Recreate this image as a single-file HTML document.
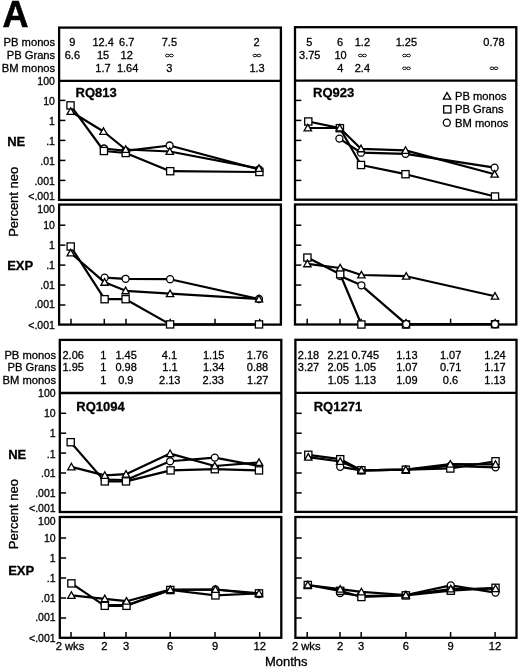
<!DOCTYPE html>
<html><head><meta charset="utf-8"><style>
html,body{margin:0;padding:0;background:#fff;}
svg{display:block;filter:grayscale(1) blur(0.3px);}
text{font-family:"Liberation Sans",sans-serif;fill:#000;stroke:#000;stroke-width:0.3px;}
</style></head><body>
<svg width="520" height="669" viewBox="0 0 520 669" stroke="#000" stroke-linecap="butt">
<text x="2.4" y="27.2" font-size="36" font-weight="bold" style="stroke-width:0.6px">A</text>
<rect x="59.1" y="27.6" width="221.80" height="172.30" fill="none" stroke-width="2.3"/>
<line x1="59.10" y1="80.80" x2="280.90" y2="80.80" stroke-width="2.3"/>
<rect x="59.1" y="204.6" width="221.80" height="120.00" fill="none" stroke-width="2.3"/>
<rect x="295.0" y="27.2" width="221.30" height="172.50" fill="none" stroke-width="2.3"/>
<line x1="295.00" y1="80.70" x2="516.30" y2="80.70" stroke-width="2.3"/>
<rect x="295.0" y="204.5" width="221.30" height="120.00" fill="none" stroke-width="2.3"/>
<rect x="59.8" y="339.9" width="221.50" height="172.10" fill="none" stroke-width="2.3"/>
<line x1="59.80" y1="393.00" x2="281.30" y2="393.00" stroke-width="2.3"/>
<rect x="59.8" y="517.0" width="221.50" height="120.80" fill="none" stroke-width="2.3"/>
<rect x="295.4" y="339.8" width="221.10" height="172.10" fill="none" stroke-width="2.3"/>
<line x1="295.40" y1="392.90" x2="516.50" y2="392.90" stroke-width="2.3"/>
<rect x="295.4" y="517.0" width="221.10" height="120.80" fill="none" stroke-width="2.3"/>
<line x1="59.10" y1="100.40" x2="65.40" y2="100.40" stroke-width="1.5"/>
<line x1="59.10" y1="120.40" x2="65.40" y2="120.40" stroke-width="1.5"/>
<line x1="59.10" y1="140.40" x2="65.40" y2="140.40" stroke-width="1.5"/>
<line x1="59.10" y1="160.40" x2="65.40" y2="160.40" stroke-width="1.5"/>
<line x1="59.10" y1="180.40" x2="65.40" y2="180.40" stroke-width="1.5"/>
<line x1="295.00" y1="100.40" x2="301.30" y2="100.40" stroke-width="1.5"/>
<line x1="295.00" y1="120.40" x2="301.30" y2="120.40" stroke-width="1.5"/>
<line x1="295.00" y1="140.40" x2="301.30" y2="140.40" stroke-width="1.5"/>
<line x1="295.00" y1="160.40" x2="301.30" y2="160.40" stroke-width="1.5"/>
<line x1="295.00" y1="180.40" x2="301.30" y2="180.40" stroke-width="1.5"/>
<line x1="59.10" y1="225.20" x2="65.40" y2="225.20" stroke-width="1.5"/>
<line x1="59.10" y1="245.15" x2="65.40" y2="245.15" stroke-width="1.5"/>
<line x1="59.10" y1="265.10" x2="65.40" y2="265.10" stroke-width="1.5"/>
<line x1="59.10" y1="285.05" x2="65.40" y2="285.05" stroke-width="1.5"/>
<line x1="59.10" y1="305.00" x2="65.40" y2="305.00" stroke-width="1.5"/>
<line x1="295.00" y1="225.20" x2="301.30" y2="225.20" stroke-width="1.5"/>
<line x1="295.00" y1="245.15" x2="301.30" y2="245.15" stroke-width="1.5"/>
<line x1="295.00" y1="265.10" x2="301.30" y2="265.10" stroke-width="1.5"/>
<line x1="295.00" y1="285.05" x2="301.30" y2="285.05" stroke-width="1.5"/>
<line x1="295.00" y1="305.00" x2="301.30" y2="305.00" stroke-width="1.5"/>
<line x1="59.80" y1="413.30" x2="66.10" y2="413.30" stroke-width="1.5"/>
<line x1="59.80" y1="433.20" x2="66.10" y2="433.20" stroke-width="1.5"/>
<line x1="59.80" y1="453.10" x2="66.10" y2="453.10" stroke-width="1.5"/>
<line x1="59.80" y1="473.00" x2="66.10" y2="473.00" stroke-width="1.5"/>
<line x1="59.80" y1="492.90" x2="66.10" y2="492.90" stroke-width="1.5"/>
<line x1="295.40" y1="413.30" x2="301.70" y2="413.30" stroke-width="1.5"/>
<line x1="295.40" y1="433.20" x2="301.70" y2="433.20" stroke-width="1.5"/>
<line x1="295.40" y1="453.10" x2="301.70" y2="453.10" stroke-width="1.5"/>
<line x1="295.40" y1="473.00" x2="301.70" y2="473.00" stroke-width="1.5"/>
<line x1="295.40" y1="492.90" x2="301.70" y2="492.90" stroke-width="1.5"/>
<line x1="59.80" y1="538.00" x2="66.10" y2="538.00" stroke-width="1.5"/>
<line x1="59.80" y1="558.00" x2="66.10" y2="558.00" stroke-width="1.5"/>
<line x1="59.80" y1="578.00" x2="66.10" y2="578.00" stroke-width="1.5"/>
<line x1="59.80" y1="598.00" x2="66.10" y2="598.00" stroke-width="1.5"/>
<line x1="59.80" y1="618.00" x2="66.10" y2="618.00" stroke-width="1.5"/>
<line x1="295.40" y1="538.00" x2="301.70" y2="538.00" stroke-width="1.5"/>
<line x1="295.40" y1="558.00" x2="301.70" y2="558.00" stroke-width="1.5"/>
<line x1="295.40" y1="578.00" x2="301.70" y2="578.00" stroke-width="1.5"/>
<line x1="295.40" y1="598.00" x2="301.70" y2="598.00" stroke-width="1.5"/>
<line x1="295.40" y1="618.00" x2="301.70" y2="618.00" stroke-width="1.5"/>
<line x1="71.00" y1="324.60" x2="71.00" y2="318.80" stroke-width="1.5"/>
<line x1="104.30" y1="324.60" x2="104.30" y2="318.80" stroke-width="1.5"/>
<line x1="126.00" y1="324.60" x2="126.00" y2="318.80" stroke-width="1.5"/>
<line x1="170.20" y1="324.60" x2="170.20" y2="318.80" stroke-width="1.5"/>
<line x1="215.00" y1="324.60" x2="215.00" y2="318.80" stroke-width="1.5"/>
<line x1="259.70" y1="324.60" x2="259.70" y2="318.80" stroke-width="1.5"/>
<line x1="307.20" y1="324.50" x2="307.20" y2="318.70" stroke-width="1.5"/>
<line x1="340.00" y1="324.50" x2="340.00" y2="318.70" stroke-width="1.5"/>
<line x1="361.20" y1="324.50" x2="361.20" y2="318.70" stroke-width="1.5"/>
<line x1="405.90" y1="324.50" x2="405.90" y2="318.70" stroke-width="1.5"/>
<line x1="450.60" y1="324.50" x2="450.60" y2="318.70" stroke-width="1.5"/>
<line x1="495.10" y1="324.50" x2="495.10" y2="318.70" stroke-width="1.5"/>
<line x1="71.00" y1="637.80" x2="71.00" y2="632.00" stroke-width="1.5"/>
<line x1="104.30" y1="637.80" x2="104.30" y2="632.00" stroke-width="1.5"/>
<line x1="126.00" y1="637.80" x2="126.00" y2="632.00" stroke-width="1.5"/>
<line x1="170.20" y1="637.80" x2="170.20" y2="632.00" stroke-width="1.5"/>
<line x1="215.00" y1="637.80" x2="215.00" y2="632.00" stroke-width="1.5"/>
<line x1="259.70" y1="637.80" x2="259.70" y2="632.00" stroke-width="1.5"/>
<line x1="307.20" y1="637.80" x2="307.20" y2="632.00" stroke-width="1.5"/>
<line x1="340.00" y1="637.80" x2="340.00" y2="632.00" stroke-width="1.5"/>
<line x1="361.20" y1="637.80" x2="361.20" y2="632.00" stroke-width="1.5"/>
<line x1="405.90" y1="637.80" x2="405.90" y2="632.00" stroke-width="1.5"/>
<line x1="450.60" y1="637.80" x2="450.60" y2="632.00" stroke-width="1.5"/>
<line x1="495.10" y1="637.80" x2="495.10" y2="632.00" stroke-width="1.5"/>
<text x="54.9" y="84.8" font-size="10.5" text-anchor="end">100</text>
<text x="54.9" y="104.6" font-size="10.5" text-anchor="end">10</text>
<text x="54.9" y="125.0" font-size="10.5" text-anchor="end">1</text>
<text x="54.9" y="144.8" font-size="10.5" text-anchor="end">.1</text>
<text x="54.9" y="164.6" font-size="10.5" text-anchor="end">.01</text>
<text x="54.9" y="184.6" font-size="10.5" text-anchor="end">.001</text>
<text x="54.9" y="199.8" font-size="10.5" text-anchor="end">&lt;.001</text>
<text x="54.9" y="213.1" font-size="10.5" text-anchor="end">100</text>
<text x="54.9" y="229.0" font-size="10.5" text-anchor="end">10</text>
<text x="54.9" y="249.0" font-size="10.5" text-anchor="end">1</text>
<text x="54.9" y="268.8" font-size="10.5" text-anchor="end">.1</text>
<text x="54.9" y="288.8" font-size="10.5" text-anchor="end">.01</text>
<text x="54.9" y="308.4" font-size="10.5" text-anchor="end">.001</text>
<text x="54.9" y="329.1" font-size="10.5" text-anchor="end">&lt;.001</text>
<text x="55.6" y="397.4" font-size="10.5" text-anchor="end">100</text>
<text x="55.6" y="417.2" font-size="10.5" text-anchor="end">10</text>
<text x="55.6" y="437.1" font-size="10.5" text-anchor="end">1</text>
<text x="55.6" y="457.5" font-size="10.5" text-anchor="end">.1</text>
<text x="55.6" y="477.3" font-size="10.5" text-anchor="end">.01</text>
<text x="55.6" y="497.1" font-size="10.5" text-anchor="end">.001</text>
<text x="55.6" y="512.0" font-size="10.5" text-anchor="end">&lt;.001</text>
<text x="55.6" y="525.2" font-size="10.5" text-anchor="end">100</text>
<text x="55.6" y="541.5" font-size="10.5" text-anchor="end">10</text>
<text x="55.6" y="561.7" font-size="10.5" text-anchor="end">1</text>
<text x="55.6" y="581.5" font-size="10.5" text-anchor="end">.1</text>
<text x="55.6" y="601.5" font-size="10.5" text-anchor="end">.01</text>
<text x="55.6" y="621.3" font-size="10.5" text-anchor="end">.001</text>
<text x="55.6" y="641.5" font-size="10.5" text-anchor="end">&lt;.001</text>
<text x="7.2" y="145.6" font-size="13" font-weight="bold">NE</text>
<text x="7.2" y="270.0" font-size="13" font-weight="bold">EXP</text>
<text x="8.2" y="459.0" font-size="13" font-weight="bold">NE</text>
<text x="8.2" y="574.6" font-size="13" font-weight="bold">EXP</text>
<text x="0" y="0" font-size="13" text-anchor="middle" transform="translate(18.1 201.8) rotate(-90)">Percent neo</text>
<text x="0" y="0" font-size="13" text-anchor="middle" transform="translate(18.1 514.2) rotate(-90)">Percent neo</text>
<text x="55.2" y="45.8" font-size="11.2" text-anchor="end">PB monos</text>
<text x="55.2" y="58.8" font-size="11.2" text-anchor="end">PB Grans</text>
<text x="55.2" y="71.8" font-size="11.2" text-anchor="end">BM monos</text>
<text x="56.0" y="358.6" font-size="11.2" text-anchor="end">PB monos</text>
<text x="56.0" y="371.4" font-size="11.2" text-anchor="end">PB Grans</text>
<text x="56.0" y="384.4" font-size="11.2" text-anchor="end">BM monos</text>
<text x="72.2" y="46.0" font-size="11" text-anchor="middle">9</text>
<text x="103.2" y="46.0" font-size="11" text-anchor="middle">12.4</text>
<text x="126.7" y="46.0" font-size="11" text-anchor="middle">6.7</text>
<text x="169.4" y="46.0" font-size="11" text-anchor="middle">7.5</text>
<text x="256.6" y="46.0" font-size="11" text-anchor="middle">2</text>
<text x="72.4" y="59.0" font-size="11" text-anchor="middle">6.6</text>
<text x="103.0" y="59.0" font-size="11" text-anchor="middle">15</text>
<text x="126.7" y="59.0" font-size="11" text-anchor="middle">12</text>
<ellipse cx="167.40" cy="55.50" rx="1.95" ry="1.25" fill="none" stroke-width="0.95"/>
<ellipse cx="171.40" cy="55.50" rx="1.95" ry="1.25" fill="none" stroke-width="0.95"/>
<ellipse cx="254.90" cy="55.50" rx="1.95" ry="1.25" fill="none" stroke-width="0.95"/>
<ellipse cx="258.90" cy="55.50" rx="1.95" ry="1.25" fill="none" stroke-width="0.95"/>
<text x="103.0" y="71.8" font-size="11" text-anchor="middle">1.7</text>
<text x="127.6" y="71.8" font-size="11" text-anchor="middle">1.64</text>
<text x="169.2" y="71.8" font-size="11" text-anchor="middle">3</text>
<text x="257.1" y="71.8" font-size="11" text-anchor="middle">1.3</text>
<text x="309.2" y="46.0" font-size="11" text-anchor="middle">5</text>
<text x="340.0" y="46.0" font-size="11" text-anchor="middle">6</text>
<text x="362.4" y="46.0" font-size="11" text-anchor="middle">1.2</text>
<text x="406.4" y="46.0" font-size="11" text-anchor="middle">1.25</text>
<text x="494.0" y="46.0" font-size="11" text-anchor="middle">0.78</text>
<text x="309.8" y="59.0" font-size="11" text-anchor="middle">3.75</text>
<text x="340.5" y="59.0" font-size="11" text-anchor="middle">10</text>
<ellipse cx="360.40" cy="55.50" rx="1.95" ry="1.25" fill="none" stroke-width="0.95"/>
<ellipse cx="364.40" cy="55.50" rx="1.95" ry="1.25" fill="none" stroke-width="0.95"/>
<ellipse cx="404.50" cy="55.50" rx="1.95" ry="1.25" fill="none" stroke-width="0.95"/>
<ellipse cx="408.50" cy="55.50" rx="1.95" ry="1.25" fill="none" stroke-width="0.95"/>
<text x="340.2" y="71.8" font-size="11" text-anchor="middle">4</text>
<text x="362.4" y="71.8" font-size="11" text-anchor="middle">2.4</text>
<ellipse cx="404.50" cy="68.30" rx="1.95" ry="1.25" fill="none" stroke-width="0.95"/>
<ellipse cx="408.50" cy="68.30" rx="1.95" ry="1.25" fill="none" stroke-width="0.95"/>
<ellipse cx="492.00" cy="68.30" rx="1.95" ry="1.25" fill="none" stroke-width="0.95"/>
<ellipse cx="496.00" cy="68.30" rx="1.95" ry="1.25" fill="none" stroke-width="0.95"/>
<text x="73.2" y="358.5" font-size="11" text-anchor="middle">2.06</text>
<text x="103.3" y="358.5" font-size="11" text-anchor="middle">1</text>
<text x="126.1" y="358.5" font-size="11" text-anchor="middle">1.45</text>
<text x="169.5" y="358.5" font-size="11" text-anchor="middle">4.1</text>
<text x="213.7" y="358.5" font-size="11" text-anchor="middle">1.15</text>
<text x="257.5" y="358.5" font-size="11" text-anchor="middle">1.76</text>
<text x="73.2" y="371.3" font-size="11" text-anchor="middle">1.95</text>
<text x="103.3" y="371.3" font-size="11" text-anchor="middle">1</text>
<text x="126.1" y="371.3" font-size="11" text-anchor="middle">0.98</text>
<text x="170.0" y="371.3" font-size="11" text-anchor="middle">1.1</text>
<text x="213.7" y="371.3" font-size="11" text-anchor="middle">1.34</text>
<text x="257.5" y="371.3" font-size="11" text-anchor="middle">0.88</text>
<text x="103.3" y="384.3" font-size="11" text-anchor="middle">1</text>
<text x="125.8" y="384.3" font-size="11" text-anchor="middle">0.9</text>
<text x="169.8" y="384.3" font-size="11" text-anchor="middle">2.13</text>
<text x="213.3" y="384.3" font-size="11" text-anchor="middle">2.33</text>
<text x="257.8" y="384.3" font-size="11" text-anchor="middle">1.27</text>
<text x="308.5" y="358.5" font-size="11" text-anchor="middle">2.18</text>
<text x="338.1" y="358.5" font-size="11" text-anchor="middle">2.21</text>
<text x="365.3" y="358.5" font-size="11" text-anchor="middle">0.745</text>
<text x="406.9" y="358.5" font-size="11" text-anchor="middle">1.13</text>
<text x="450.6" y="358.5" font-size="11" text-anchor="middle">1.07</text>
<text x="495.0" y="358.5" font-size="11" text-anchor="middle">1.24</text>
<text x="308.5" y="371.3" font-size="11" text-anchor="middle">3.27</text>
<text x="338.1" y="371.3" font-size="11" text-anchor="middle">2.05</text>
<text x="365.4" y="371.3" font-size="11" text-anchor="middle">1.05</text>
<text x="406.9" y="371.3" font-size="11" text-anchor="middle">1.07</text>
<text x="450.6" y="371.3" font-size="11" text-anchor="middle">0.71</text>
<text x="495.0" y="371.3" font-size="11" text-anchor="middle">1.17</text>
<text x="338.4" y="384.3" font-size="11" text-anchor="middle">1.05</text>
<text x="365.4" y="384.3" font-size="11" text-anchor="middle">1.13</text>
<text x="406.9" y="384.3" font-size="11" text-anchor="middle">1.09</text>
<text x="450.5" y="384.3" font-size="11" text-anchor="middle">0.6</text>
<text x="495.0" y="384.3" font-size="11" text-anchor="middle">1.13</text>
<text x="75.6" y="97.3" font-size="13" font-weight="bold">RQ813</text>
<text x="313.0" y="97.3" font-size="13" font-weight="bold">RQ923</text>
<text x="76.3" y="411.0" font-size="13" font-weight="bold">RQ1094</text>
<text x="313.7" y="411.0" font-size="13" font-weight="bold">RQ1271</text>
<polygon points="447.00,92.57 443.30,99.17 450.70,99.17" fill="#fff" stroke-width="1.3" stroke-linejoin="miter"/>
<text x="455" y="100.2" font-size="11.2">PB monos</text>
<rect x="443.70" y="105.80" width="7.2" height="7.2" fill="#fff" stroke-width="1.3"/>
<text x="455" y="113.4" font-size="11.2">PB Grans</text>
<circle cx="446.8" cy="122.7" r="3.5" fill="#fff" stroke-width="1.3"/>
<text x="455" y="126.7" font-size="11.2">BM monos</text>
<text x="70" y="649.7" font-size="11.2" text-anchor="middle">2 wks</text>
<text x="104.3" y="649.7" font-size="11.2" text-anchor="middle">2</text>
<text x="126" y="649.7" font-size="11.2" text-anchor="middle">3</text>
<text x="170.2" y="649.7" font-size="11.2" text-anchor="middle">6</text>
<text x="215" y="649.7" font-size="11.2" text-anchor="middle">9</text>
<text x="259.7" y="649.7" font-size="11.2" text-anchor="middle">12</text>
<text x="306.2" y="649.7" font-size="11.2" text-anchor="middle">2 wks</text>
<text x="340" y="649.7" font-size="11.2" text-anchor="middle">2</text>
<text x="361.2" y="649.7" font-size="11.2" text-anchor="middle">3</text>
<text x="405.9" y="649.7" font-size="11.2" text-anchor="middle">6</text>
<text x="450.6" y="649.7" font-size="11.2" text-anchor="middle">9</text>
<text x="495.1" y="649.7" font-size="11.2" text-anchor="middle">12</text>
<text x="286.3" y="666.2" font-size="13" text-anchor="middle">Months</text>
<polyline points="104,148.5 125.7,150.8 169.6,145.5 259,169.5" fill="none" stroke-width="2.2" stroke-linejoin="round"/>
<circle cx="104" cy="148.5" r="3.5" fill="#fff" stroke-width="1.3"/>
<circle cx="125.7" cy="150.8" r="3.5" fill="#fff" stroke-width="1.3"/>
<circle cx="169.6" cy="145.5" r="3.5" fill="#fff" stroke-width="1.3"/>
<circle cx="259" cy="169.5" r="3.5" fill="#fff" stroke-width="1.3"/>
<polyline points="70.5,105.4 103.9,151 125.7,153 170.2,171.2 259.4,172.0" fill="none" stroke-width="2.2" stroke-linejoin="round"/>
<rect x="66.90" y="101.80" width="7.2" height="7.2" fill="#fff" stroke-width="1.3"/>
<rect x="100.30" y="147.40" width="7.2" height="7.2" fill="#fff" stroke-width="1.3"/>
<rect x="122.10" y="149.40" width="7.2" height="7.2" fill="#fff" stroke-width="1.3"/>
<rect x="166.60" y="167.60" width="7.2" height="7.2" fill="#fff" stroke-width="1.3"/>
<rect x="255.80" y="168.40" width="7.2" height="7.2" fill="#fff" stroke-width="1.3"/>
<polyline points="70.7,111.5 103.5,131.5 125.7,149.5 169.7,151.5 259,168.5" fill="none" stroke-width="2.2" stroke-linejoin="round"/>
<polygon points="70.70,107.87 67.00,114.47 74.40,114.47" fill="#fff" stroke-width="1.3" stroke-linejoin="miter"/>
<polygon points="103.50,127.87 99.80,134.47 107.20,134.47" fill="#fff" stroke-width="1.3" stroke-linejoin="miter"/>
<polygon points="125.70,145.87 122.00,152.47 129.40,152.47" fill="#fff" stroke-width="1.3" stroke-linejoin="miter"/>
<polygon points="169.70,147.87 166.00,154.47 173.40,154.47" fill="#fff" stroke-width="1.3" stroke-linejoin="miter"/>
<polygon points="259.00,164.87 255.30,171.47 262.70,171.47" fill="#fff" stroke-width="1.3" stroke-linejoin="miter"/>
<polyline points="104.6,277.7 125.6,278.8 170.1,279.2 259,299" fill="none" stroke-width="2.2" stroke-linejoin="round"/>
<circle cx="104.6" cy="277.7" r="3.5" fill="#fff" stroke-width="1.3"/>
<circle cx="125.6" cy="278.8" r="3.5" fill="#fff" stroke-width="1.3"/>
<circle cx="170.1" cy="279.2" r="3.5" fill="#fff" stroke-width="1.3"/>
<circle cx="259" cy="299" r="3.5" fill="#fff" stroke-width="1.3"/>
<polyline points="70.7,246.5 104.6,299.2 125.6,299.2 170.1,324.4 259,324.4" fill="none" stroke-width="2.2" stroke-linejoin="round"/>
<rect x="67.10" y="242.90" width="7.2" height="7.2" fill="#fff" stroke-width="1.3"/>
<rect x="101.00" y="295.60" width="7.2" height="7.2" fill="#fff" stroke-width="1.3"/>
<rect x="122.00" y="295.60" width="7.2" height="7.2" fill="#fff" stroke-width="1.3"/>
<rect x="166.50" y="320.80" width="7.2" height="7.2" fill="#fff" stroke-width="1.3"/>
<rect x="255.40" y="320.80" width="7.2" height="7.2" fill="#fff" stroke-width="1.3"/>
<polyline points="70.7,253 104.6,282.3 125.6,290.8 170.1,293.7 259,299" fill="none" stroke-width="2.2" stroke-linejoin="round"/>
<polygon points="70.70,249.37 67.00,255.97 74.40,255.97" fill="#fff" stroke-width="1.3" stroke-linejoin="miter"/>
<polygon points="104.60,278.67 100.90,285.27 108.30,285.27" fill="#fff" stroke-width="1.3" stroke-linejoin="miter"/>
<polygon points="125.60,287.17 121.90,293.77 129.30,293.77" fill="#fff" stroke-width="1.3" stroke-linejoin="miter"/>
<polygon points="170.10,290.07 166.40,296.67 173.80,296.67" fill="#fff" stroke-width="1.3" stroke-linejoin="miter"/>
<polygon points="259.00,295.37 255.30,301.97 262.70,301.97" fill="#fff" stroke-width="1.3" stroke-linejoin="miter"/>
<polyline points="339.4,138.6 361,152.7 405.5,153.8 494.6,167.7" fill="none" stroke-width="2.2" stroke-linejoin="round"/>
<circle cx="339.4" cy="138.6" r="3.5" fill="#fff" stroke-width="1.3"/>
<circle cx="361" cy="152.7" r="3.5" fill="#fff" stroke-width="1.3"/>
<circle cx="405.5" cy="153.8" r="3.5" fill="#fff" stroke-width="1.3"/>
<circle cx="494.6" cy="167.7" r="3.5" fill="#fff" stroke-width="1.3"/>
<polyline points="308.3,121.5 339.9,128.2 361,165 405.5,174.2 495,196.5" fill="none" stroke-width="2.2" stroke-linejoin="round"/>
<rect x="304.70" y="117.90" width="7.2" height="7.2" fill="#fff" stroke-width="1.3"/>
<rect x="336.30" y="124.60" width="7.2" height="7.2" fill="#fff" stroke-width="1.3"/>
<rect x="357.40" y="161.40" width="7.2" height="7.2" fill="#fff" stroke-width="1.3"/>
<rect x="401.90" y="170.60" width="7.2" height="7.2" fill="#fff" stroke-width="1.3"/>
<rect x="491.40" y="192.90" width="7.2" height="7.2" fill="#fff" stroke-width="1.3"/>
<polyline points="307.8,128 339.7,128 361,148.8 405.5,150.4 494.6,174.2" fill="none" stroke-width="2.2" stroke-linejoin="round"/>
<polygon points="307.80,124.37 304.10,130.97 311.50,130.97" fill="#fff" stroke-width="1.3" stroke-linejoin="miter"/>
<polygon points="339.70,124.37 336.00,130.97 343.40,130.97" fill="#fff" stroke-width="1.3" stroke-linejoin="miter"/>
<polygon points="361.00,145.17 357.30,151.77 364.70,151.77" fill="#fff" stroke-width="1.3" stroke-linejoin="miter"/>
<polygon points="405.50,146.77 401.80,153.37 409.20,153.37" fill="#fff" stroke-width="1.3" stroke-linejoin="miter"/>
<polygon points="494.60,170.57 490.90,177.17 498.30,177.17" fill="#fff" stroke-width="1.3" stroke-linejoin="miter"/>
<polyline points="340.2,276 361.4,285.3 406.2,324.2 495,324.2" fill="none" stroke-width="2.2" stroke-linejoin="round"/>
<circle cx="340.2" cy="276" r="3.5" fill="#fff" stroke-width="1.3"/>
<circle cx="361.4" cy="285.3" r="3.5" fill="#fff" stroke-width="1.3"/>
<circle cx="406.2" cy="324.2" r="3.5" fill="#fff" stroke-width="1.3"/>
<circle cx="495" cy="324.2" r="3.5" fill="#fff" stroke-width="1.3"/>
<polyline points="307.4,257.6 340.2,274.2 361.4,324.5 406,324.5 495,324.2" fill="none" stroke-width="2.2" stroke-linejoin="round"/>
<rect x="303.80" y="254.00" width="7.2" height="7.2" fill="#fff" stroke-width="1.3"/>
<rect x="336.60" y="270.60" width="7.2" height="7.2" fill="#fff" stroke-width="1.3"/>
<rect x="357.80" y="320.90" width="7.2" height="7.2" fill="#fff" stroke-width="1.3"/>
<rect x="402.40" y="320.90" width="7.2" height="7.2" fill="#fff" stroke-width="1.3"/>
<rect x="491.40" y="320.60" width="7.2" height="7.2" fill="#fff" stroke-width="1.3"/>
<polyline points="307.4,263.8 340.2,268 361.4,275 406.2,276.2 495,296.2" fill="none" stroke-width="2.2" stroke-linejoin="round"/>
<polygon points="307.40,260.17 303.70,266.77 311.10,266.77" fill="#fff" stroke-width="1.3" stroke-linejoin="miter"/>
<polygon points="340.20,264.37 336.50,270.97 343.90,270.97" fill="#fff" stroke-width="1.3" stroke-linejoin="miter"/>
<polygon points="361.40,271.37 357.70,277.97 365.10,277.97" fill="#fff" stroke-width="1.3" stroke-linejoin="miter"/>
<polygon points="406.20,272.57 402.50,279.17 409.90,279.17" fill="#fff" stroke-width="1.3" stroke-linejoin="miter"/>
<polygon points="495.00,292.57 491.30,299.17 498.70,299.17" fill="#fff" stroke-width="1.3" stroke-linejoin="miter"/>
<polyline points="104.8,479.5 126,480 170.1,461.25 214.8,457.6 259,466" fill="none" stroke-width="2.2" stroke-linejoin="round"/>
<circle cx="104.8" cy="479.5" r="3.5" fill="#fff" stroke-width="1.3"/>
<circle cx="126" cy="480" r="3.5" fill="#fff" stroke-width="1.3"/>
<circle cx="170.1" cy="461.25" r="3.5" fill="#fff" stroke-width="1.3"/>
<circle cx="214.8" cy="457.6" r="3.5" fill="#fff" stroke-width="1.3"/>
<circle cx="259" cy="466" r="3.5" fill="#fff" stroke-width="1.3"/>
<polyline points="70.7,442.2 104.8,481.4 126,481.4 170.6,470.4 214.8,469.2 259,470.4" fill="none" stroke-width="2.2" stroke-linejoin="round"/>
<rect x="67.10" y="438.60" width="7.2" height="7.2" fill="#fff" stroke-width="1.3"/>
<rect x="101.20" y="477.80" width="7.2" height="7.2" fill="#fff" stroke-width="1.3"/>
<rect x="122.40" y="477.80" width="7.2" height="7.2" fill="#fff" stroke-width="1.3"/>
<rect x="167.00" y="466.80" width="7.2" height="7.2" fill="#fff" stroke-width="1.3"/>
<rect x="211.20" y="465.60" width="7.2" height="7.2" fill="#fff" stroke-width="1.3"/>
<rect x="255.40" y="466.80" width="7.2" height="7.2" fill="#fff" stroke-width="1.3"/>
<polyline points="71.4,466.9 104.8,475.4 126,474.2 170.1,453.6 214.8,466 259,462.5" fill="none" stroke-width="2.2" stroke-linejoin="round"/>
<polygon points="71.40,463.27 67.70,469.87 75.10,469.87" fill="#fff" stroke-width="1.3" stroke-linejoin="miter"/>
<polygon points="104.80,471.77 101.10,478.37 108.50,478.37" fill="#fff" stroke-width="1.3" stroke-linejoin="miter"/>
<polygon points="126.00,470.57 122.30,477.17 129.70,477.17" fill="#fff" stroke-width="1.3" stroke-linejoin="miter"/>
<polygon points="170.10,449.97 166.40,456.57 173.80,456.57" fill="#fff" stroke-width="1.3" stroke-linejoin="miter"/>
<polygon points="214.80,462.37 211.10,468.97 218.50,468.97" fill="#fff" stroke-width="1.3" stroke-linejoin="miter"/>
<polygon points="259.00,458.87 255.30,465.47 262.70,465.47" fill="#fff" stroke-width="1.3" stroke-linejoin="miter"/>
<polyline points="104.8,605.2 126.5,605.2 170.3,590 215.4,589.5 259,594" fill="none" stroke-width="2.2" stroke-linejoin="round"/>
<circle cx="104.8" cy="605.2" r="3.5" fill="#fff" stroke-width="1.3"/>
<circle cx="126.5" cy="605.2" r="3.5" fill="#fff" stroke-width="1.3"/>
<circle cx="170.3" cy="590" r="3.5" fill="#fff" stroke-width="1.3"/>
<circle cx="215.4" cy="589.5" r="3.5" fill="#fff" stroke-width="1.3"/>
<circle cx="259" cy="594" r="3.5" fill="#fff" stroke-width="1.3"/>
<polyline points="71.4,583.4 104.8,605.8 126.5,605.8 170.3,590 215.4,595.4 259,593.4" fill="none" stroke-width="2.2" stroke-linejoin="round"/>
<rect x="67.80" y="579.80" width="7.2" height="7.2" fill="#fff" stroke-width="1.3"/>
<rect x="101.20" y="602.20" width="7.2" height="7.2" fill="#fff" stroke-width="1.3"/>
<rect x="122.90" y="602.20" width="7.2" height="7.2" fill="#fff" stroke-width="1.3"/>
<rect x="166.70" y="586.40" width="7.2" height="7.2" fill="#fff" stroke-width="1.3"/>
<rect x="211.80" y="591.80" width="7.2" height="7.2" fill="#fff" stroke-width="1.3"/>
<rect x="255.40" y="589.80" width="7.2" height="7.2" fill="#fff" stroke-width="1.3"/>
<polyline points="71.4,595.4 104.8,598.8 126.5,601.2 170.3,589.6 215.4,589.5 259,593.4" fill="none" stroke-width="2.2" stroke-linejoin="round"/>
<polygon points="71.40,591.77 67.70,598.37 75.10,598.37" fill="#fff" stroke-width="1.3" stroke-linejoin="miter"/>
<polygon points="104.80,595.17 101.10,601.77 108.50,601.77" fill="#fff" stroke-width="1.3" stroke-linejoin="miter"/>
<polygon points="126.50,597.57 122.80,604.17 130.20,604.17" fill="#fff" stroke-width="1.3" stroke-linejoin="miter"/>
<polygon points="170.30,585.97 166.60,592.57 174.00,592.57" fill="#fff" stroke-width="1.3" stroke-linejoin="miter"/>
<polygon points="215.40,585.87 211.70,592.47 219.10,592.47" fill="#fff" stroke-width="1.3" stroke-linejoin="miter"/>
<polygon points="259.00,589.77 255.30,596.37 262.70,596.37" fill="#fff" stroke-width="1.3" stroke-linejoin="miter"/>
<polyline points="340.2,466.8 361.4,470.3 405.8,469.7 450.3,466 495.5,467.3" fill="none" stroke-width="2.2" stroke-linejoin="round"/>
<circle cx="340.2" cy="466.8" r="3.5" fill="#fff" stroke-width="1.3"/>
<circle cx="361.4" cy="470.3" r="3.5" fill="#fff" stroke-width="1.3"/>
<circle cx="405.8" cy="469.7" r="3.5" fill="#fff" stroke-width="1.3"/>
<circle cx="450.3" cy="466" r="3.5" fill="#fff" stroke-width="1.3"/>
<circle cx="495.5" cy="467.3" r="3.5" fill="#fff" stroke-width="1.3"/>
<polyline points="308.3,454.8 340.2,459.2 361.4,470.3 405.8,469.7 450.3,468.5 495.5,461.25" fill="none" stroke-width="2.2" stroke-linejoin="round"/>
<rect x="304.70" y="451.20" width="7.2" height="7.2" fill="#fff" stroke-width="1.3"/>
<rect x="336.60" y="455.60" width="7.2" height="7.2" fill="#fff" stroke-width="1.3"/>
<rect x="357.80" y="466.70" width="7.2" height="7.2" fill="#fff" stroke-width="1.3"/>
<rect x="402.20" y="466.10" width="7.2" height="7.2" fill="#fff" stroke-width="1.3"/>
<rect x="446.70" y="464.90" width="7.2" height="7.2" fill="#fff" stroke-width="1.3"/>
<rect x="491.90" y="457.65" width="7.2" height="7.2" fill="#fff" stroke-width="1.3"/>
<polyline points="308.3,457.2 340.2,461.5 361.4,470.3 405.8,469.7 450.3,464.1 495.5,464.4" fill="none" stroke-width="2.2" stroke-linejoin="round"/>
<polygon points="308.30,453.57 304.60,460.17 312.00,460.17" fill="#fff" stroke-width="1.3" stroke-linejoin="miter"/>
<polygon points="340.20,457.87 336.50,464.47 343.90,464.47" fill="#fff" stroke-width="1.3" stroke-linejoin="miter"/>
<polygon points="361.40,466.67 357.70,473.27 365.10,473.27" fill="#fff" stroke-width="1.3" stroke-linejoin="miter"/>
<polygon points="405.80,466.07 402.10,472.67 409.50,472.67" fill="#fff" stroke-width="1.3" stroke-linejoin="miter"/>
<polygon points="450.30,460.47 446.60,467.07 454.00,467.07" fill="#fff" stroke-width="1.3" stroke-linejoin="miter"/>
<polygon points="495.50,460.77 491.80,467.37 499.20,467.37" fill="#fff" stroke-width="1.3" stroke-linejoin="miter"/>
<polyline points="340.2,593 361.4,596 405.8,595 450.8,585.4 495.5,592.6" fill="none" stroke-width="2.2" stroke-linejoin="round"/>
<circle cx="340.2" cy="593" r="3.5" fill="#fff" stroke-width="1.3"/>
<circle cx="361.4" cy="596" r="3.5" fill="#fff" stroke-width="1.3"/>
<circle cx="405.8" cy="595" r="3.5" fill="#fff" stroke-width="1.3"/>
<circle cx="450.8" cy="585.4" r="3.5" fill="#fff" stroke-width="1.3"/>
<circle cx="495.5" cy="592.6" r="3.5" fill="#fff" stroke-width="1.3"/>
<polyline points="307.8,585 340.2,590.8 361.4,597 405.8,595.4 450.8,590.7 495.5,587.8" fill="none" stroke-width="2.2" stroke-linejoin="round"/>
<rect x="304.20" y="581.40" width="7.2" height="7.2" fill="#fff" stroke-width="1.3"/>
<rect x="336.60" y="587.20" width="7.2" height="7.2" fill="#fff" stroke-width="1.3"/>
<rect x="357.80" y="593.40" width="7.2" height="7.2" fill="#fff" stroke-width="1.3"/>
<rect x="402.20" y="591.80" width="7.2" height="7.2" fill="#fff" stroke-width="1.3"/>
<rect x="447.20" y="587.10" width="7.2" height="7.2" fill="#fff" stroke-width="1.3"/>
<rect x="491.90" y="584.20" width="7.2" height="7.2" fill="#fff" stroke-width="1.3"/>
<polyline points="307.8,585 340.2,589.2 361.4,591.9 405.8,595 450.8,589 495.5,588.6" fill="none" stroke-width="2.2" stroke-linejoin="round"/>
<polygon points="307.80,581.37 304.10,587.97 311.50,587.97" fill="#fff" stroke-width="1.3" stroke-linejoin="miter"/>
<polygon points="340.20,585.57 336.50,592.17 343.90,592.17" fill="#fff" stroke-width="1.3" stroke-linejoin="miter"/>
<polygon points="361.40,588.27 357.70,594.87 365.10,594.87" fill="#fff" stroke-width="1.3" stroke-linejoin="miter"/>
<polygon points="405.80,591.37 402.10,597.97 409.50,597.97" fill="#fff" stroke-width="1.3" stroke-linejoin="miter"/>
<polygon points="450.80,585.37 447.10,591.97 454.50,591.97" fill="#fff" stroke-width="1.3" stroke-linejoin="miter"/>
<polygon points="495.50,584.97 491.80,591.57 499.20,591.57" fill="#fff" stroke-width="1.3" stroke-linejoin="miter"/>
<circle cx="406.2" cy="324.2" r="3.5" fill="#fff" stroke-width="1.3"/>
<circle cx="495" cy="324.2" r="3.5" fill="#fff" stroke-width="1.3"/>
</svg>
</body></html>
